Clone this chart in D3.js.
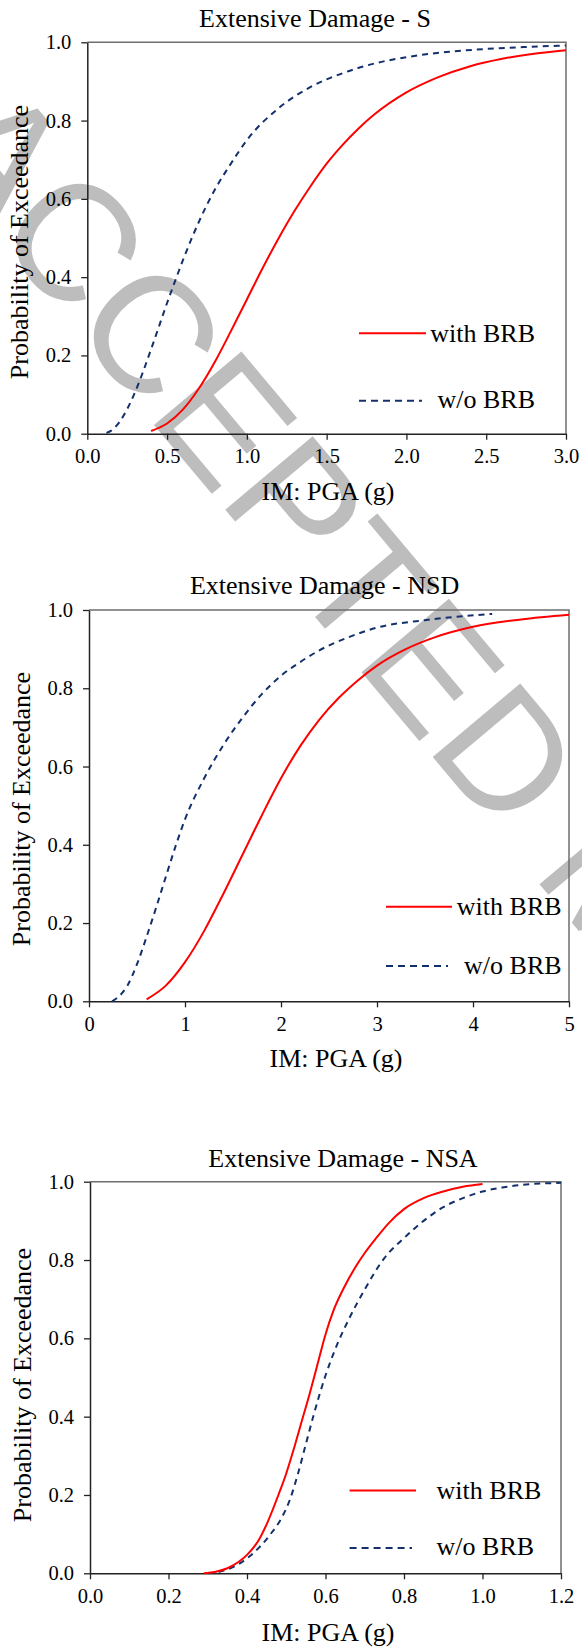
<!DOCTYPE html>
<html>
<head>
<meta charset="utf-8">
<script src="https://cdn.jsdelivr.net/npm/d3@7"></script>
<style>
  body { margin: 0; background: #fff; }
  svg { display: block; }
  text { font-family: "Liberation Serif", "Times New Roman", serif; fill: #000; }
</style>
</head>
<body>
<svg id="chart" width="582" height="1647"></svg>
<script>
// ---- data ----
const yTicks = [0, 0.2, 0.4, 0.6, 0.8, 1.0]

// Extensive Damage - S
const sTicks = [0, 0.5, 1.0, 1.5, 2.0, 2.5, 3.0]
const sWithX = [0.40, 0.5, 0.6, 0.7, 0.8, 0.9, 1.0, 1.1, 1.2, 1.3, 1.4, 1.5, 1.6, 1.7, 1.8, 2.0, 2.2, 2.4, 2.6, 2.8, 3.0]
const sWithP = [0.007, 0.026, 0.062, 0.116, 0.184, 0.262, 0.343, 0.424, 0.50, 0.57, 0.633, 0.69, 0.738, 0.78, 0.816, 0.872, 0.911, 0.939, 0.958, 0.971, 0.980]
const sWoX = [0.12, 0.15, 0.2, 0.25, 0.3, 0.35, 0.4, 0.45, 0.5, 0.55, 0.6, 0.7, 0.8, 0.9, 1.0, 1.2, 1.4, 1.6, 1.8, 2.0, 2.25, 2.5, 2.75, 3.0]
const sWoP = [0.002, 0.008, 0.029, 0.063, 0.107, 0.159, 0.216, 0.275, 0.334, 0.39, 0.444, 0.542, 0.624, 0.69, 0.75, 0.832, 0.886, 0.921, 0.946, 0.962, 0.975, 0.983, 0.988, 0.992]

// Extensive Damage - NSD
const nsdTicks = [0, 1, 2, 3, 4, 5]
const nsdWithX = [0.6, 0.8, 1.0, 1.2, 1.4, 1.6, 1.8, 2.0, 2.2, 2.4, 2.6, 2.8, 3.0, 3.3, 3.6, 4.0, 4.5, 5.0]
const nsdWithP = [0.005, 0.04, 0.10, 0.18, 0.275, 0.375, 0.475, 0.57, 0.652, 0.72, 0.775, 0.82, 0.858, 0.90, 0.93, 0.957, 0.976, 0.988]
const nsdWoX = [0.24, 0.3, 0.4, 0.5, 0.6, 0.7, 0.8, 0.9, 1.0, 1.2, 1.4, 1.6, 1.8, 2.0, 2.2, 2.4, 2.7, 3.0, 3.5, 4.2]
const nsdWoP = [0.0, 0.01, 0.04, 0.095, 0.165, 0.24, 0.318, 0.395, 0.465, 0.57, 0.655, 0.725, 0.785, 0.832, 0.867, 0.897, 0.93, 0.955, 0.974, 0.99]

// Extensive Damage - NSA
const nsaTicks = [0, 0.2, 0.4, 0.6, 0.8, 1.0, 1.2]
const nsaWithX = [0.29, 0.32, 0.35, 0.38, 0.40, 0.43, 0.45, 0.48, 0.50, 0.52, 0.54, 0.56, 0.58, 0.60, 0.62, 0.65, 0.68, 0.70, 0.73, 0.76, 0.80, 0.85, 0.90, 0.95, 1.00]
const nsaWithP = [0.0, 0.004, 0.013, 0.03, 0.047, 0.085, 0.125, 0.2, 0.255, 0.32, 0.39, 0.46, 0.535, 0.61, 0.67, 0.735, 0.788, 0.818, 0.857, 0.893, 0.93, 0.958, 0.975, 0.987, 0.994]
const nsaWoX = [0.30, 0.33, 0.36, 0.40, 0.43, 0.46, 0.49, 0.51, 0.53, 0.55, 0.57, 0.60, 0.63, 0.66, 0.70, 0.75, 0.80, 0.85, 0.90, 0.95, 1.00, 1.05, 1.10, 1.20]
const nsaWoP = [0.0, 0.004, 0.014, 0.038, 0.065, 0.10, 0.145, 0.19, 0.255, 0.33, 0.405, 0.505, 0.585, 0.65, 0.725, 0.805, 0.856, 0.90, 0.935, 0.958, 0.975, 0.985, 0.992, 0.997]

const legendNames = ["with BRB", "w/o BRB"]
const redColor = "#ff0000"
const blueColor = "#14306c"
const serif = "'Liberation Serif', 'Times New Roman', serif"

const svg = d3.select("#chart")

// watermark behind everything
svg.append("text")
    .attr("transform", "translate(-80,146) rotate(50)")
    .style("font-family", "'Liberation Sans', Arial, sans-serif")
    .style("font-size", "166px")
    .style("fill", "#bdbdbd")
    .text("ACCEPTED MANUSCRIPT")

function drawPanel(p) {
    const x = d3.scaleLinear().domain([p.ticks[0], p.ticks[p.ticks.length - 1]]).range([p.left, p.right])
    const y = d3.scaleLinear().domain([0, 1]).range([p.bottom, p.top])
    const g = svg.append("g")

    // top and right frame, grey
    g.append("path")
        .attr("d", `M${p.left},${p.top}H${p.right}V${p.bottom}`)
        .attr("fill", "none").attr("stroke", "#6e6e6e").attr("stroke-width", 1.5)

    const xAxis = g.append("g")
        .attr("transform", `translate(0,${p.bottom})`)
        .call(d3.axisBottom(x).tickValues(p.ticks).tickSizeInner(6).tickSizeOuter(0).tickPadding(9).tickFormat(d3.format(p.fmt)))
    const yAxis = g.append("g")
        .attr("transform", `translate(${p.left},0)`)
        .call(d3.axisLeft(y).tickValues(yTicks).tickSizeInner(6).tickSizeOuter(0).tickPadding(10).tickFormat(d3.format(".1f")))
    for (const a of [xAxis, yAxis]) {
        a.attr("font-family", null).attr("font-size", null)
        a.select(".domain").attr("stroke", "#222").attr("stroke-width", 1.5)
        a.selectAll(".tick line").attr("stroke", "#222").attr("stroke-width", 1.3)
        a.selectAll(".tick text").style("font-size", "20.5px").attr("fill", "#000")
            .style("font-family", serif)
    }
    xAxis.selectAll(".tick text").attr("dy", "0.71em")

    const line = d3.line().x(d => x(d[0])).y(d => y(d[1])).curve(d3.curveMonotoneX)
    g.append("path")
        .datum(p.woX.map((v, i) => [v, p.woP[i]]))
        .attr("d", line).attr("fill", "none")
        .attr("stroke", blueColor).attr("stroke-width", 2).attr("stroke-dasharray", "6,5")
    g.append("path")
        .datum(p.withX.map((v, i) => [v, p.withP[i]]))
        .attr("d", line).attr("fill", "none")
        .attr("stroke", redColor).attr("stroke-width", 2)

    const label = (sel) => sel.style("font-family", serif).style("font-size", "26px")
    g.append("text").attr("x", p.titleX).attr("y", p.titleY)
        .attr("text-anchor", "middle").call(label).text(p.title)
    g.append("text").attr("x", p.xlabX).attr("y", p.xlabY)
        .attr("text-anchor", "middle").call(label).text("IM: PGA (g)")
    g.append("text").attr("transform", `translate(${p.ylabX},${p.ylabY}) rotate(-90)`)
        .attr("text-anchor", "middle").call(label).text("Probability of Exceedance")

    // legend
    const lg = p.legend
    g.append("line").attr("x1", lg.x1).attr("x2", lg.x2a).attr("y1", lg.y1).attr("y2", lg.y1)
        .attr("stroke", redColor).attr("stroke-width", 2)
    g.append("line").attr("x1", lg.x1).attr("x2", lg.x2b).attr("y1", lg.y2).attr("y2", lg.y2)
        .attr("stroke", blueColor).attr("stroke-width", 2).attr("stroke-dasharray", "7,5")
    g.append("text").attr("x", lg.tx1).attr("y", lg.y1 + 8.5).attr("text-anchor", lg.anchor)
        .call(label).text(legendNames[0])
    g.append("text").attr("x", lg.tx2).attr("y", lg.y2 + 7.5).attr("text-anchor", lg.anchor)
        .call(label).text(legendNames[1])
}

drawPanel({
    title: "Extensive Damage - S", ticks: sTicks, fmt: ".1f",
    withX: sWithX, withP: sWithP, woX: sWoX, woP: sWoP,
    left: 87.3, right: 566, top: 42.3, bottom: 433.7,
    titleX: 315, titleY: 26.7, xlabX: 328, xlabY: 500, ylabX: 28, ylabY: 242,
    legend: {x1: 359, x2a: 426, x2b: 422, y1: 333.3, y2: 400.7, tx1: 535, tx2: 535, anchor: "end"}
})
drawPanel({
    title: "Extensive Damage - NSD", ticks: nsdTicks, fmt: "d",
    withX: nsdWithX, withP: nsdWithP, woX: nsdWoX, woP: nsdWoP,
    left: 89, right: 569, top: 610, bottom: 1001.3,
    titleX: 324.6, titleY: 594.3, xlabX: 336, xlabY: 1067, ylabX: 30, ylabY: 809,
    legend: {x1: 386, x2a: 452, x2b: 448, y1: 906.7, y2: 966, tx1: 561.6, tx2: 561.6, anchor: "end"}
})
drawPanel({
    title: "Extensive Damage - NSA", ticks: nsaTicks, fmt: ".1f",
    withX: nsaWithX, withP: nsaWithP, woX: nsaWoX, woP: nsaWoP,
    left: 90, right: 561, top: 1181.7, bottom: 1573.3,
    titleX: 343, titleY: 1166.5, xlabX: 328, xlabY: 1641, ylabX: 31, ylabY: 1385,
    legend: {x1: 349.6, x2a: 416, x2b: 412, y1: 1490.4, y2: 1547.9, tx1: 436.6, tx2: 436.6, anchor: "start"}
})
</script>
</body>
</html>
